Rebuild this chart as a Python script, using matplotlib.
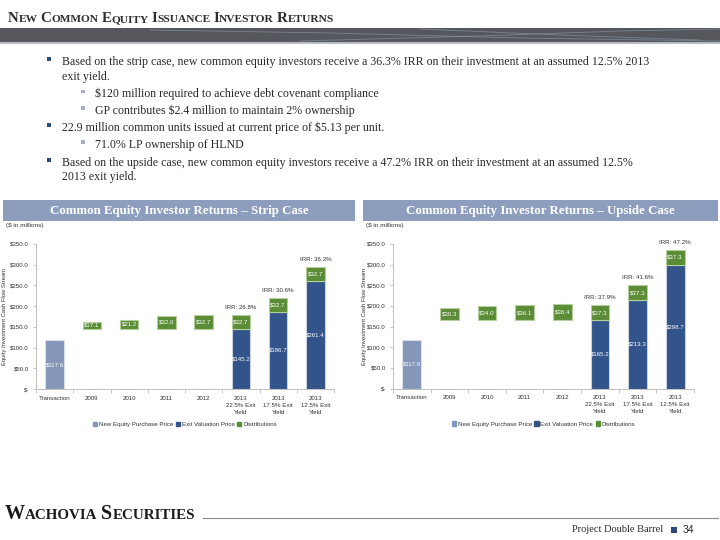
import numpy as np
import matplotlib
matplotlib.use("Agg")
import matplotlib.pyplot as plt
from matplotlib.patches import Rectangle, Patch

# ---- data -------------------------------------------------------------
categories = ["Transaction", "2009", "2010", "2011", "2012",
              "2013\n22.5% Exit\nYield", "2013\n17.5% Exit\nYield", "2013\n12.5% Exit\nYield"]

strip_purchase = [117.6, 0, 0, 0, 0, 0, 0, 0]
strip_exit = [0, 0, 0, 0, 0, 145.2, 186.7, 261.4]
strip_dist = [0, 17.1, 21.2, 32.0, 32.7, 32.7, 32.7, 32.7]
strip_irr = ["26.8%", "30.6%", "36.3%"]

upside_purchase = [117.6, 0, 0, 0, 0, 0, 0, 0]
upside_exit = [0, 0, 0, 0, 0, 165.2, 213.3, 298.7]
upside_dist = [0, 30.3, 34.0, 36.1, 38.4, 37.3, 37.3, 37.3]
upside_irr = ["37.9%", "41.6%", "47.2%"]

yticks = [0, 50, 100, 150, 200, 250, 300, 350]

C_PURCHASE = "#8497b9"
C_EXIT = "#32548a"
C_DIST = "#5b8c36"
C_HEAD = "#8c9dbd"
SANS = "Liberation Sans"
SERIF = "Liberation Serif"

W, H = 720, 540
fig = plt.figure(figsize=(7.2, 5.4), dpi=100)


def px(x, y):
    return x / W, 1 - y / H


def draw_smallcaps(x, y, text, big, small, color):
    # fake small caps: big first letter, smaller uppercase rest
    renderer = fig.canvas.get_renderer()
    cx = x
    for word in text.split(" "):
        for s, size in [(word[0], big), (word[1:].upper(), small)]:
            if not s:
                continue
            t = fig.text(*px(cx, y), s, fontsize=size, family=SERIF, weight="bold",
                         color=color, va="baseline", ha="left")
            cx += t.get_window_extent(renderer).width
        cx += small * 0.35
    return cx


# ---- page header ---------------------------------------------------------
draw_smallcaps(8, 22, "New Common Equity Issuance Investor Returns", 10.8, 8.2, "#2e2e2e")
fig.patches.append(Rectangle(px(0, 42), 1, 14 / H, transform=fig.transFigure,
                             facecolor="#55575c", edgecolor="none"))
fig.patches.append(Rectangle(px(0, 44), 1, 2 / H, transform=fig.transFigure,
                             facecolor="#b9bcc2", edgecolor="none"))
for xs, ys in [([150, 330, 520, 720], [30, 33, 38, 41]),
               ([300, 480, 620, 720], [41, 36, 31, 29]),
               ([420, 560, 700], [29, 35, 40])]:
    fig.add_artist(plt.Line2D(np.array(xs) / W, 1 - np.array(ys) / H,
                              transform=fig.transFigure, color="#8a96aa", lw=0.6, alpha=0.7))

# ---- bullets -------------------------------------------------------------
bullets = [
    (0, 62, "Based on the strip case, new common equity investors receive a 36.3% IRR on their investment at an assumed 12.5% 2013"),
    (None, 77, "exit yield."),
    (1, 94, "$120 million required to achieve debt covenant compliance"),
    (1, 111, "GP contributes $2.4 million to maintain 2% ownership"),
    (0, 128, "22.9 million common units issued at current price of $5.13 per unit."),
    (1, 145, "71.0% LP ownership of HLND"),
    (0, 163, "Based on the upside case, new common equity investors receive a 47.2% IRR on their investment at an assumed 12.5%"),
    (None, 177, "2013 exit yield."),
]
for level, y, txt in bullets:
    tx = 95 if level == 1 else 62
    if level == 0:
        fig.patches.append(Rectangle(px(47, y - 1), 4 / W, 4 / H, transform=fig.transFigure,
                                     facecolor="#2d4a7c", edgecolor="none"))
    elif level == 1:
        fig.patches.append(Rectangle(px(81, y - 1), 3.5 / W, 3.5 / H, transform=fig.transFigure,
                                     facecolor="#a3b0c8", edgecolor="none"))
    fig.text(*px(tx, y), txt.replace("$", r"\$"), fontsize=8.6, family=SERIF,
             color="#2a2a2a", va="center", ha="left")


# ---- charts --------------------------------------------------------------
def chart(rect, head_x0, head_x1, ylab_x, title, purchase, exit_, dist, irr):
    fig.patches.append(Rectangle(px(head_x0, 221), (head_x1 - head_x0) / W, 21 / H,
                                 transform=fig.transFigure, facecolor=C_HEAD,
                                 edgecolor="none"))
    fig.text(*px((head_x0 + head_x1) / 2, 211), title, fontsize=9.3, family=SERIF,
             weight="bold", color="white", ha="center", va="center")
    fig.text(*px(head_x0 + 3, 226), r"(\$ in millions)",
             fontsize=4.6, family=SANS, color="#333333", ha="left", va="center")

    ax = fig.add_axes(rect)
    x = np.arange(len(categories))
    purchase = np.array(purchase)
    exit_ = np.array(exit_)
    dist = np.array(dist)
    # distribution bars for the interim years float on the 22.5% exit value
    base = np.where(exit_ > 0, exit_, exit_[5])
    base[0] = 0
    wd = 0.5
    ax.bar(x, purchase, wd, color=C_PURCHASE, edgecolor="#d9dee8", lw=0.8)
    ax.bar(x, exit_, wd, color=C_EXIT, edgecolor="#c9d1df", lw=0.8)
    ax.bar(x, dist, wd, bottom=base, color=C_DIST, edgecolor="#b6cf9e", lw=0.8)

    lab = dict(fontsize=4.4, family=SANS, color="white", ha="center", va="center")
    for i in x:
        if purchase[i] > 0:
            ax.text(i, purchase[i] / 2, f"${purchase[i]:.1f}", **lab)
        if exit_[i] > 0:
            ax.text(i, exit_[i] / 2, f"${exit_[i]:.1f}", **lab)
        if dist[i] > 0:
            ax.text(i, base[i] + dist[i] / 2, f"${dist[i]:.1f}", **lab)
    for k, r in enumerate(irr):
        i = 5 + k
        ax.text(i, base[i] + dist[i] + 12, f"IRR: {r}", fontsize=4.4, family=SANS,
                color="#333333", ha="center", va="bottom")

    ax.set_xlim(-0.5, len(categories) - 0.5)
    ax.set_ylim(0, 350)
    ax.set_yticks(yticks)
    ax.set_yticklabels([f"${v:.1f}" if v else "$-" for v in yticks])
    ax.set_xticks(x)
    ax.set_xticklabels(categories, linespacing=1.5)
    ax.set_xticks(np.arange(-0.5, len(categories)), minor=True)
    ax.tick_params(axis="x", which="major", length=0, pad=5, labelsize=4.4,
                   labelcolor="#333333")
    ax.tick_params(axis="x", which="minor", length=3, color="#bfbfbf", width=0.6)
    ax.tick_params(axis="y", length=2, color="#bfbfbf", width=0.6, labelsize=4.4,
                   labelcolor="#333333", pad=3)
    for lbl in ax.get_xticklabels() + ax.get_yticklabels():
        lbl.set_family(SANS)
    for s in ["top", "right"]:
        ax.spines[s].set_visible(False)
    for s in ["left", "bottom"]:
        ax.spines[s].set_color("#bfbfbf")
        ax.spines[s].set_linewidth(0.7)
    ax.set_ylabel("Equity Investment Cash Flow Stream", fontsize=4.2, family=SANS,
                  color="#333333")
    ax.yaxis.set_label_coords((ylab_x - rect[0] * W) / (rect[2] * W), 0.5)

    handles = [Patch(color=C_PURCHASE), Patch(color=C_EXIT), Patch(color=C_DIST)]
    ax.legend(handles, ["New Equity Purchase Price", "Exit Valuation Price", "Distributions"],
              loc="center", bbox_to_anchor=(0.5, -0.245), ncol=3, frameon=False,
              prop={"family": SANS, "size": 4.4}, handlelength=0.7, handleheight=0.7,
              handletextpad=0.3, columnspacing=0.4, labelcolor="#333333")
    return ax


chart([36 / W, 1 - 389 / H, 298 / W, 145 / H], 3, 355, 7,
      "Common Equity Investor Returns \u2013 Strip Case",
      strip_purchase, strip_exit, strip_dist, strip_irr)
chart([393 / W, 1 - 388.5 / H, 301 / W, 144.5 / H], 363, 718, 367,
      "Common Equity Investor Returns \u2013 Upside Case",
      upside_purchase, upside_exit, upside_dist, upside_irr)

# ---- footer --------------------------------------------------------------
end = draw_smallcaps(5, 519, "Wachovia Securities", 14.5, 10.8, "#1a1a1a")
fig.add_artist(plt.Line2D([(end + 4) / W, 718 / W], [1 - 518 / H] * 2,
                          transform=fig.transFigure, color="#8a8a8a", lw=0.8))
fig.text(*px(663, 530), "Project Double Barrel", fontsize=7.5, family=SERIF,
         color="#2a2a2a", ha="right", va="center")
fig.patches.append(Rectangle(px(671, 533), 6 / W, 6 / H, transform=fig.transFigure,
                             facecolor="#2d4a7c", edgecolor="none"))
fig.text(*px(683, 530), "34", fontsize=7.5, family=SANS, color="#2a2a2a",
         ha="left", va="center")

fig.savefig("out.png", dpi=100)
